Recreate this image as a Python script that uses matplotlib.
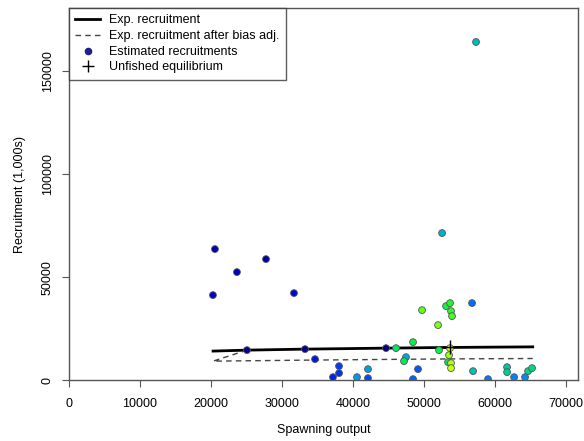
import numpy as np
import matplotlib.pyplot as plt

# Estimated recruitments by year (spawning output, recruitment in 1,000s)
years = np.arange(1971, 2015)
spawn_output = [44650, 25070, 33240, 27750, 20560, 23660, 20280, 31690, 34650,
                37180, 38030, 38030, 42110, 49150, 48450, 56760, 59010, 62680, 64220,
                40560, 42110, 47460, 52540, 57320,
                56900, 61690, 61690, 64650, 65210,
                53380,
                46060, 47180, 52110, 48450, 53100, 53660, 53800, 53940,
                49720, 51970,
                53520, 53800, 53800, 53660]
recruitment = [15530, 14560, 15050, 58730, 63590, 52420, 41260, 42230, 10190,
               1460, 3400, 6800, 970, 5340, 490, 37380, 490, 1460, 1460,
               1460, 5340, 11160, 71360, 164080,
               4370, 6310, 3880, 4370, 5830,
               8740,
               15530, 9220, 14560, 18440, 35920, 37380, 33490, 31060,
               33980, 26700,
               12130, 8250, 5830, 15530]

# Stock-recruit curve, with and without bias adjustment
exp_ssb = [20300, 25070, 33240, 44650, 53660, 65300]
exp_rec = [14100, 14560, 15050, 15530, 15870, 16150]
adj_ssb = [25070, 20300, 33240, 44650, 53660, 65300]
adj_rec = [14560, 9220, 9700, 10050, 10300, 10500]

# Unfished equilibrium
unfished_ssb = 53660
unfished_rec = 15870


def rich_colors_short(t):
    # same formula as rich.colors.short() in r4ss
    t = np.asarray(t, dtype=float)
    r = 1 / (1 + np.exp(20 - 35 * t))
    g = np.clip(-0.8 + 6 * t - 5 * t ** 2, 0, 1)
    b = np.exp(-0.5 * ((t - 0.25) / 0.15) ** 2)
    return np.column_stack([r, g, b])


plt.rcParams['font.family'] = ['Liberation Sans', 'DejaVu Sans']
plt.rcParams['font.size'] = 9

fig = plt.figure(figsize=(5.84, 4.41), dpi=100)
ax = fig.add_axes([0.118, 0.138, 0.872, 0.844])

pos = 0.07 + 0.55 * (years - years.min()) / (years.max() - years.min())
cols = rich_colors_short(pos)

ax.plot(exp_ssb, exp_rec, color='black', lw=2, zorder=2, label='Exp. recruitment')
ax.plot(adj_ssb, adj_rec, color='#444444', lw=1, ls=(0, (4, 3)), zorder=2,
        label='Exp. recruitment after bias adj.')
ax.scatter(spawn_output, recruitment, s=24, c=cols, edgecolors='#555555',
           linewidths=0.6, zorder=3)
ax.plot(unfished_ssb, unfished_rec, marker='+', color='black', ms=10, mew=1,
        ls='none', zorder=4)

# legend proxies
h_pts = ax.scatter([], [], s=20, color='#1e1e8c', label='Estimated recruitments')
h_plus, = ax.plot([], [], marker='+', color='black', ms=8, mew=1, ls='none',
                  label='Unfished equilibrium')
h1, h2 = ax.get_lines()[:2]
leg = ax.legend(handles=[h1, h2, h_pts, h_plus], loc='upper left',
                borderaxespad=0, frameon=True, fancybox=False, fontsize=9,
                labelspacing=0.3, handlelength=2, handletextpad=0.7,
                borderpad=0.5)
leg.get_frame().set_edgecolor('#333333')
leg.get_frame().set_linewidth(1)

ax.set_xlim(0, 71700)
ax.set_ylim(0, 180600)
ax.set_xticks(np.arange(0, 70001, 10000))
ax.set_yticks([0, 50000, 100000, 150000])
ax.set_yticklabels(['0', '50000', '100000', '150000'], rotation=90, va='center')
ax.tick_params(direction='out', length=5, width=0.8, color='#555555')
ax.tick_params(axis='x', pad=8)
ax.tick_params(axis='y', pad=6)

for s in ax.spines.values():
    s.set_color('#555555')
    s.set_linewidth(1)

ax.set_xlabel('Spawning output', labelpad=10)
ax.set_ylabel('Recruitment (1,000s)', labelpad=11)

fig.savefig('out.png', dpi=100)
